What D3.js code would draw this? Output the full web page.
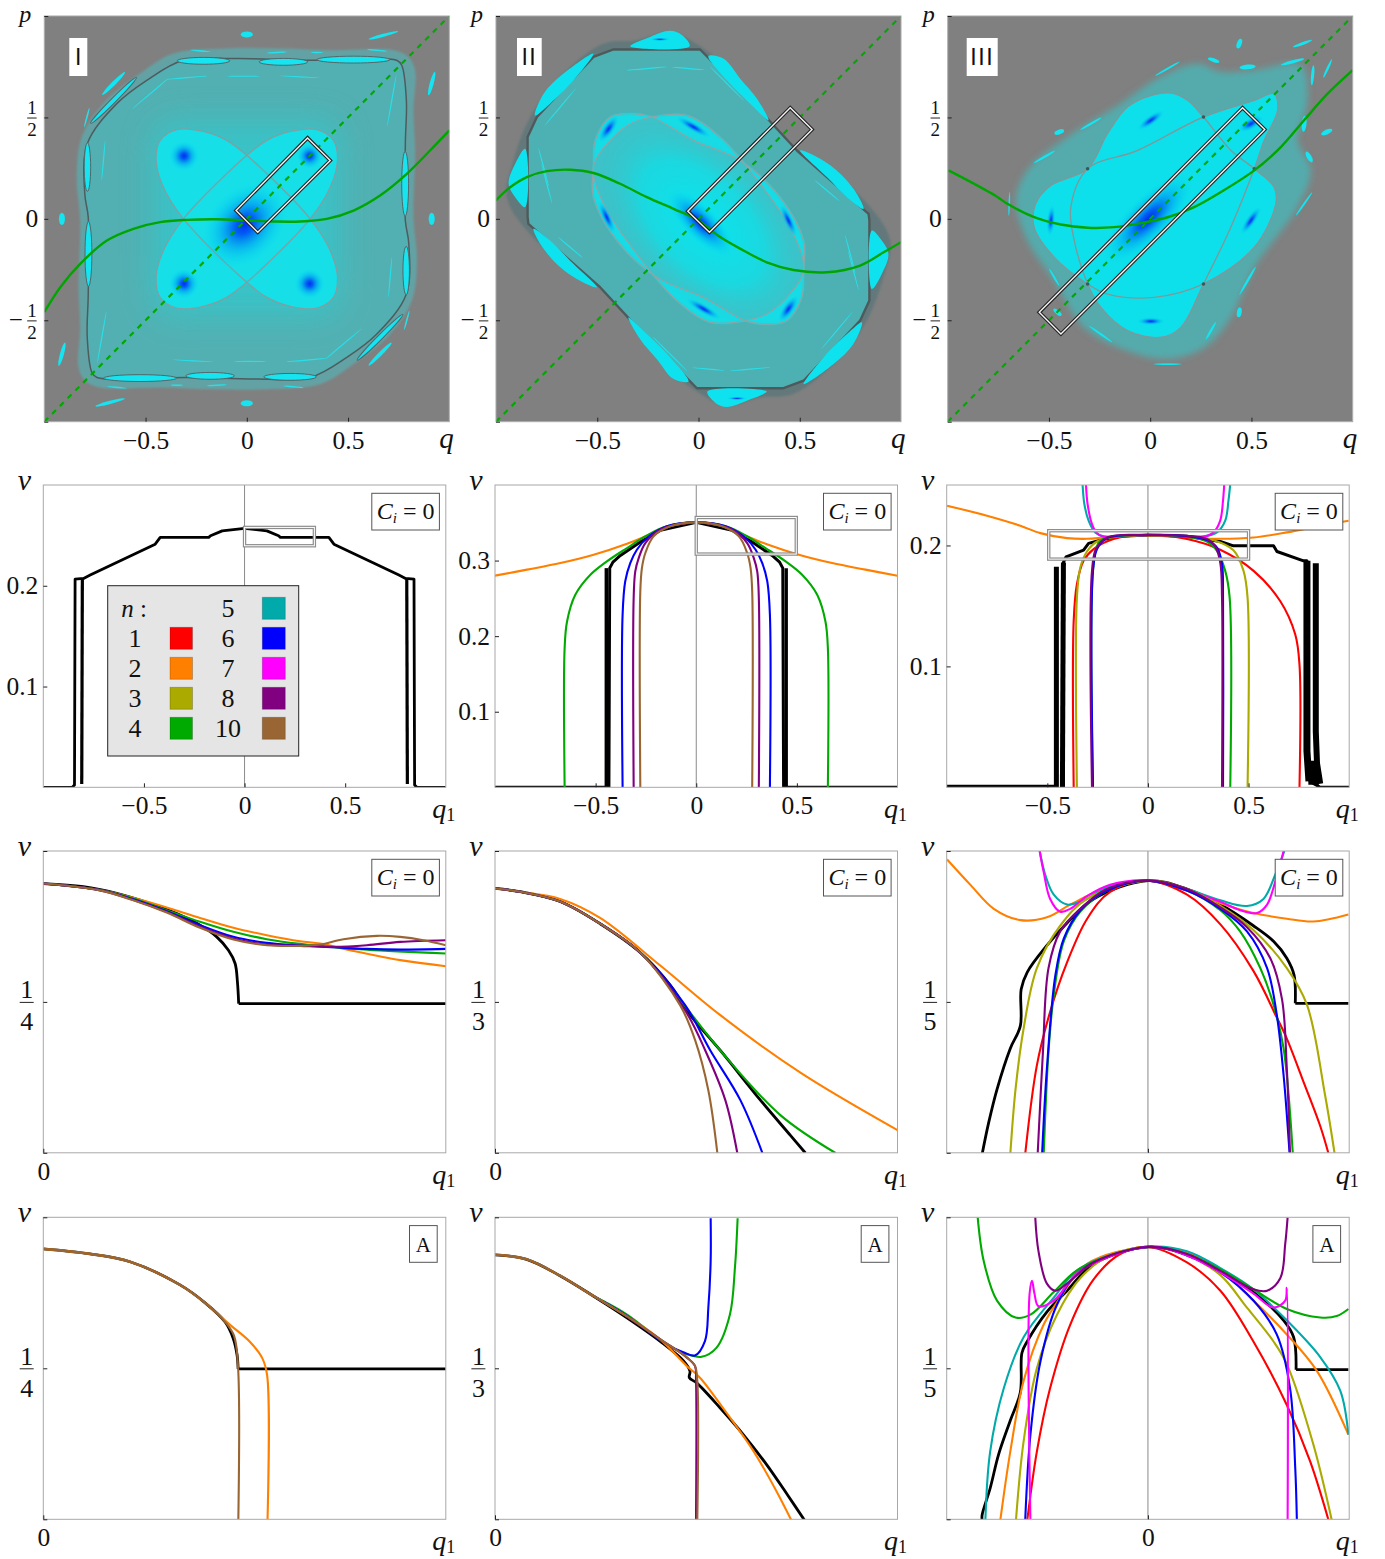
<!DOCTYPE html>
<html><head><meta charset="utf-8">
<script src="https://cdnjs.cloudflare.com/ajax/libs/d3/7.8.5/d3.min.js"></script>
<style>html,body{margin:0;padding:0;background:#fff}svg{display:block}text{font-family:"Liberation Serif",serif;fill:#111}</style>
</head><body><div id="c"></div>
<script>
// ---------- colours of the legend ----------
const legendCol1=[["1","#ff0000"],["2","#ff8000"],["3","#aaaa00"],["4","#00aa00"]];
const legendCol2=[["5","#00aaaa"],["6","#0000ff"],["7","#ff00ff"],["8","#800080"],["10","#996633"]];
const RED="#ff0000",ORG="#ff8000",OLV="#aaaa00",GRN="#00aa00",TEA="#00aaaa",BLU="#0000ff",MAG="#ff00ff",PUR="#800080",BRN="#996633",BLK="#000";

// ---------- phase-space maps: green curves (q,p) ----------
const greenI=[[-1,-.46],[-.921,-.337],[-.823,-.222],[-.691,-.107],[-.56,-.049],[-.428,-.016],[-.296,-.005],[-.148,-.002],[0,-.008],[.132,-.013],[.263,-.013],[.395,0],[.527,.041],[.658,.115],[.79,.222],[.905,.337],[1,.436]];
const greenII=[[-1,.091],[-.93,.156],[-.848,.206],[-.749,.235],[-.634,.242],[-.519,.226],[-.387,.173],[-.255,.107],[-.123,.049],[0,-.008],[.107,-.09],[.222,-.156],[.337,-.214],[.469,-.252],[.634,-.263],[.798,-.23],[.914,-.165],[1,-.115]];
const greenIII=[[-.996,.239],[-.885,.181],[-.753,.107],[-.705,.074],[-.573,.008],[-.441,-.028],[-.309,-.044],[-.178,-.041],[-.046,-.021],[.086,.008],[.217,.058],[.349,.132],[.514,.239],[.645,.354],[.76,.486],[.876,.617],[1,.733]];
const windowI=[[-.053,.041],[.3,.399],[.412,.288],[.054,-.066]];
const windowII=[[-.053,.038],[.453,.548],[.561,.44],[.054,-.066]];
const windowIII=[[-.548,-.461],[.456,.548],[.566,.44],[-.441,-.568]];

// region outlines (half outline; the other half by the map's point symmetry)
const outerI=[[.798,.798],[.831,.733],[.823,.535],[.831,.337],[.823,.008],[.84,-.206],[.815,-.403],[.708,-.568],[.527,-.716],[.362,-.815],[.099,-.84],[-.165,-.84],[-.428,-.831],[-.724,-.831]];
const chainI=[[.765,.757],[.788,.584],[.783,.372],[.783,-.008],[.8,-.123],[.788,-.37],[.642,-.568],[.494,-.683],[.313,-.782],[.049,-.79],[-.296,-.782],[-.74,-.782]];
const lobeI=[[0,.313],[.099,.387],[.214,.431],[.346,.44],[.428,.387],[.448,.288],[.412,.156],[.313,0]];
const outerII=[[-.14,.922],[-.025,.872],[.09,.79],[.222,.634],[.354,.469],[.486,.337],[.667,.222],[.848,.058],[.947,-.107],[.914,-.288],[.831,-.502],[.683,-.7],[.469,-.864],[.305,-.881]];
const chainII=[[-.42,.835],[.008,.835],[.272,.568],[.486,.337],[.84,.025],[.844,-.008],[.844,-.403],[.798,-.502],[.519,-.798]];
const ovalA_II=[[-.519,.255],[-.436,.387],[-.337,.469],[-.23,.502],[-.058,.51],[.107,.403],[.305,.173],[.469,-.074]];
const ovalB_II=[[-.23,.502],[-.321,.519],[-.436,.502],[-.51,.387],[-.519,.255],[-.519,.107],[-.403,-.107],[-.206,-.288],[.025,-.387]];
const islandsII=[
 [[-.337,.851],[-.239,.897],[-.14,.927],[-.082,.906],[-.044,.851]],
 [[.049,.802],[.123,.79],[.206,.691],[.288,.593],[.346,.486],[.255,.568],[.14,.683]],
 [[.502,.337],[.601,.296],[.7,.222],[.782,.123],[.815,.049],[.733,.107],[.634,.206]],
 [[.856,-.058],[.905,-.107],[.938,-.173],[.905,-.272],[.856,-.346]],
 [[.807,-.51],[.765,-.617],[.667,-.716],[.519,-.815],[.617,-.683],[.733,-.568]]];
const outerIII=[[.234,.765],[.349,.724],[.514,.733],[.744,.757],[.777,.584],[.728,.387],[.793,.239],[.728,.058],[.514,-.239],[.398,-.486],[.267,-.634],[.086,-.691],[-.112,-.65],[-.326,-.535],[-.474,-.305],[-.606,-.107],[-.663,.091],[-.606,.239],[-.408,.403],[-.145,.568],[.053,.7]];
const lobeA_III=[[-.309,.247],[-.211,.42],[-.112,.551],[.003,.608],[.102,.62],[.184,.585],[.263,.502],[.398,.338],[.514,.247],[.612,.156],[.62,.074],[.514,-.14],[.263,-.321],[.02,-.387],[-.211,-.371],[-.309,-.321],[-.474,-.189],[-.573,-.041],[-.566,.074],[-.491,.165]];
const lobeB_III=[[-.309,.247],[-.063,.337],[.263,.502],[.514,.584],[.612,.617],[.629,.535],[.563,.387],[.514,.247],[.398,-.041],[.263,-.321],[.151,-.535],[.053,-.584],[-.112,-.551],[-.244,-.436],[-.309,-.321],[-.375,-.107],[-.392,.058]];
const nodesIII=[[-.309,.247],[.263,.502],[.514,.247],[.263,-.321],[-.309,-.321]];
// ellipses: q,p, major, minor, angle
const specksI=[[0,.909,.03,.015,0],[-.913,0,.03,.015,90],[.675,.905,.075,.008,15],[.913,.667,.06,.01,75],[-.658,.667,.08,.01,45]];
const chainIslandsI=[[-.214,.779,.13,.017,0],[.181,.774,.12,.017,0],[.527,.785,.18,.017,0],[-.658,.584,.16,.012,45],[.782,.173,.16,.017,90],[.787,-.255,.12,.016,90]];
const streaksI=[[-.296,.696,.1,.003,5],[-.016,.703,.08,.003,0],[.263,.7,.1,.003,-3],[.716,.584,.13,.003,80],[-.708,.288,.1,.003,85],[-.477,.617,.12,.003,40],[-.23,.828,.05,.004,-5],[.148,.82,.05,.004,3],[.346,.82,.03,.004,0],[.642,.831,.05,.004,-5],[-.79,.5,.05,.004,75]];
const blueI=[[-.31,.31,.075,.075,0],[.31,.31,.065,.065,0],[-.31,-.32,.075,.075,0],[.31,-.32,.075,.075,0],[-.01,-.03,.24,.18,45]];
const streaksII=[[-.255,.741,.1,.003,5],[-.05,.741,.08,.003,-5],[-.683,.551,.12,.003,50],[.14,.667,.12,.003,-45],[.634,.14,.08,.003,-40],[.749,-.173,.1,.003,-75],[-.765,.255,.1,.003,-75]];
const blueII=[[.01,-.02,.22,.085,-45],[-.444,.444,.08,.03,55],[-.025,.453,.1,.024,-30],[.444,-.008,.09,.024,-65],[.025,-.444,.1,.024,-30],[.444,-.444,.08,.03,55],[-.453,.008,.09,.024,-65],[-.19,.885,.05,.009,0],[.19,-.885,.05,.009,0]];
const specksIII=[[-.449,.428,.025,.012,20],[.44,.864,.025,.012,70],[.313,.782,.03,.01,-20],[.481,.749,.04,.012,5],[.752,.864,.05,.007,20],[.703,.774,.06,.008,15],[.802,.708,.05,.008,85],[.876,.741,.05,.006,65],[.76,.469,.04,.012,85],[.872,.428,.03,.012,25],[.785,.305,.03,.012,-60],[.44,-.461,.025,.012,80],[.086,-.716,.07,.004,0],[-.458,-.461,.025,.01,-40],[-.523,.305,.06,.006,30],[-.293,.469,.06,.006,30],[.086,.741,.07,.005,30],[-.696,.074,.06,.004,88],[.481,-.305,.08,.006,60],[.3,-.551,.05,.006,60],[.76,.074,.07,.005,55],[-.474,-.288,.05,.005,-60],[-.244,-.568,.07,.005,-35]];
const blueIII=[[-.01,.0,.3,.11,45],[.003,.486,.08,.025,35],[.497,.469,.07,.03,30],[.497,-.008,.085,.025,55],[.003,-.505,.07,.02,0],[-.49,-.008,.08,.022,85]];

// ---------- nu(q1), overview row: right halves are mirrored where the curve is even ----------
const ovI_black=[[0,.2569],[.111,.2545],[.169,.2496],[.178,.248],[.419,.248],[.444,.2413],[.767,.2106],[.8,.2073],[.842,.2066],[.845,.0023],[.856,0],[1,0]];
const ovI_strand=[[.806,.2066],[.809,.0033]];
const ovII_orange=[[0,.3506],[.113,.3466],[.212,.3364],[.344,.3223],[.51,.3077],[.675,.2967],[.841,.288],[1,.28]];
const ovII_green=[[0,.3506],[.146,.3453],[.245,.3333],[.344,.3166],[.444,.2989],[.526,.2812],[.601,.2547],[.642,.2194],[.654,.1841],[.654,0]];
const ovII_black=[[0,.3506],[.179,.34],[.278,.3245],[.377,.3068],[.414,.298],[.43,.29],[.434,0],[.45,0],[1,0]];
const ovII_strand=[[.447,.29],[.447,0]];
const ovII_blue=[[0,.3506],[.146,.3453],[.245,.3298],[.295,.3143],[.328,.2967],[.353,.2724],[.366,.2283],[.366,0]];
const ovII_purple=[[0,.3506],[.179,.3408],[.253,.3232],[.286,.3033],[.303,.2857],[.311,.2503],[.311,0]];
const ovII_brown=[[0,.3506],[.129,.3453],[.212,.332],[.253,.31],[.27,.29],[.278,.2592],[.278,0]];
const ovIII_orange=[[-.998,.2329],[-.8,.2246],[-.634,.2163],[-.535,.2102],[-.402,.2061],[-.303,.2055],[-.204,.2066],[0,.2083],[.194,.2066],[.359,.2055],[.525,.2066],[.69,.2108],[.856,.2163],[.997,.2205]];
const ovIII_teal=[[-.325,.2509],[-.316,.2343],[-.295,.2205],[-.262,.2108],[-.22,.2075],[-.104,.2077],[0,.2086],[.161,.2077],[.276,.2075],[.343,.2108],[.384,.2205],[.4,.237],[.409,.2509]];
const ovIII_magenta=[[-.308,.2509],[-.3,.2343],[-.278,.2177],[-.253,.21],[-.22,.2072],[0,.2086],[.276,.2072],[.326,.2108],[.359,.2205],[.373,.237],[.379,.2509]];
const ovIII_red=[[-.369,0],[-.369,.1375],[-.353,.1679],[-.32,.1873],[-.27,.197],[-.171,.2053],[0,.2086],[.194,.2053],[.359,.1964],[.525,.179],[.657,.1541],[.732,.1264],[.753,.1015],[.753,0]];
const ovIII_olive=[[-.353,0],[-.353,.1568],[-.336,.1817],[-.303,.195],[-.253,.2033],[-.137,.2077],[0,.2086],[.194,.2077],[.326,.2044],[.425,.1961],[.475,.179],[.495,.1568],[.495,0]];
const ovIII_green=[[-.273,0],[-.27,.1845],[-.237,.2039],[-.137,.2077],[0,.2086],[.194,.2072],[.293,.2033],[.343,.1956],[.384,.179],[.406,.1568],[.409,0]];
const ovIII_blue=[[-.273,0],[-.273,.179],[-.253,.197],[-.204,.2061],[0,.2086],[.194,.2077],[.293,.2044],[.343,.1983],[.368,.1845],[.373,.1568],[.373,0]];
const ovIII_purple=[[-.278,0],[-.278,.179],[-.258,.197],[-.2,.2068],[0,.2086],[.194,.208],[.29,.2055],[.335,.199],[.36,.185],[.368,.1568],[.368,0]];
const ovIII_blackL=[[-1,0],[-.47,0],[-.455,0],[-.455,.1823]];
const ovIII_blackM=[[-.425,0],[-.42,.186]];
const ovIII_black=[[-.42,0],[-.42,.186],[-.407,.1906],[-.32,.1961],[-.295,.2017],[-.237,.2044],[-.137,.2077],[0,.2086],[.194,.2077],[.359,.2033],[.425,.1997],[.624,.1997],[.641,.195],[.773,.1873],[.79,.1873],[.79,.0324],[.806,.0047],[.856,0],[1,0]];
const ovIII_strandA=[[.79,.1873],[.79,.03],[.8,.005]];
const ovIII_strandB=[[.834,.1853],[.834,.0462],[.84,.02],[.856,.003]];
const ovIII_wedge=[[.797,.012],[.85,.012]];

// ---------- zoomed row, resonance 1/4 ----------
const z4_black=[[0,.25706],[.0348,.25687],[.0638,.25647],[.0928,.25587],[.116,.25527],[.1363,.25458],[.1508,.25388],[.161,.25308],[.1668,.25229],[.1688,.25119],[.1699,.2499],[.35,.2499]];
const z4_orange=[[0,.25706],[.0493,.25667],[.0783,.25621],[.1073,.25563],[.1363,.25501],[.1653,.25442],[.1943,.25398],[.2233,.25362],[.2407,.25348],[.2668,.25308],[.3103,.25249],[.35,.25213]];
const z4_green=[[0,.25706],[.0493,.25667],[.0783,.25617],[.1073,.25547],[.1363,.25478],[.1653,.25418],[.1943,.25374],[.2233,.25346],[.2407,.25334],[.2813,.25312],[.35,.25289]];
const z4_blue=[[0,.25706],[.0493,.25667],[.0783,.25612],[.1073,.25541],[.1363,.25458],[.1653,.25388],[.1943,.25352],[.2233,.25336],[.2523,.25326],[.2813,.25316],[.3103,.25312],[.35,.25316]];
const z4_purple=[[0,.25706],[.0493,.25665],[.0783,.25608],[.1073,.25537],[.1363,.25448],[.1653,.25378],[.1943,.25342],[.2233,.25334],[.2523,.25328],[.2813,.25338],[.3103,.25358],[.35,.25368]];
const z4_brown=[[0,.25706],[.0493,.25665],[.0783,.25606],[.1073,.25533],[.1363,.25442],[.1653,.25372],[.1943,.25338],[.2233,.25334],[.2407,.25342],[.261,.25374],[.29,.25394],[.3103,.25388],[.3306,.25368],[.35,.25338]];
// ---------- zoomed row, resonance 1/3 ----------
const z3_black=[[0,.3507],[.0311,.3502],[.0809,.3487],[.1306,.3453],[.1804,.3409],[.2177,.3359],[.2301,.3336],[.2426,.3313],[.2799,.3259],[.3297,.3183],[.367,.3129],[.3856,.3102]];
const z3_orange=[[0,.3507],[.0311,.3502],[.0809,.3491],[.1306,.3462],[.2053,.3389],[.2799,.3313],[.3794,.3225],[.5,.3137]];
const z3_green=[[0,.3507],[.0311,.3502],[.0809,.3487],[.1306,.3453],[.1804,.3409],[.2301,.3336],[.2799,.3259],[.3545,.316],[.423,.3102]];
const z3_blue=[[0,.3507],[.0311,.3502],[.0809,.3487],[.1306,.3453],[.1804,.3409],[.2364,.3328],[.2675,.3259],[.3048,.3183],[.3322,.3102]];
const z3_purple=[[0,.3507],[.0311,.3502],[.0809,.3487],[.1306,.3453],[.1804,.3409],[.2364,.332],[.2612,.3259],[.2861,.3183],[.301,.3102]];
const z3_brown=[[0,.3507],[.0311,.3502],[.0809,.3487],[.1306,.3453],[.1804,.3409],[.2301,.3328],[.2488,.3274],[.265,.3198],[.2762,.3102]];
// ---------- zoomed row, resonance 1/5 ----------
const z5_orange=[[-.499,.2101],[-.441,.2083],[-.383,.2066],[-.317,.2058],[-.251,.206],[-.193,.2069],[-.11,.208],[0,.2086],[.097,.2079],[.18,.207],[.262,.2063],[.345,.2059],[.411,.2057],[.498,.2062]];
const z5_teal=[[-.269,.2107],[-.255,.209],[-.234,.2076],[-.201,.2069],[-.16,.2072],[-.094,.2082],[0,.2086],[.097,.208],[.18,.2072],[.246,.2068],[.287,.2073],[.316,.209],[.339,.2107]];
const z5_magenta=[[-.269,.2107],[-.259,.2092],[-.243,.2073],[-.218,.2064],[-.193,.2066],[-.151,.2075],[-.094,.2083],[0,.2086],[.097,.2079],[.18,.2071],[.229,.2065],[.271,.2063],[.296,.2069],[.316,.2085],[.337,.2107]];
const z5_red=[[-.305,.1892],[-.276,.1955],[-.243,.1993],[-.201,.2028],[-.151,.2059],[-.094,.2078],[0,.2086],[.097,.2076],[.18,.2055],[.262,.2022],[.32,.1989],[.345,.1974],[.387,.1943],[.428,.1912],[.449,.1892]];
const z5_olive=[[-.342,.1892],[-.329,.1938],[-.309,.1981],[-.276,.2024],[-.218,.2054],[-.151,.2073],[0,.2086],[.097,.208],[.18,.2068],[.262,.2051],[.345,.2024],[.395,.1998],[.44,.1934],[.464,.1892]];
const z5_green=[[-.259,.1892],[-.247,.1965],[-.234,.2005],[-.209,.2043],[-.168,.2064],[-.102,.2079],[0,.2086],[.097,.2079],[.18,.2065],[.229,.205],[.279,.2024],[.312,.1998],[.337,.1967],[.36,.1892]];
const z5_blue=[[-.263,.1892],[-.251,.1953],[-.23,.2019],[-.209,.2045],[-.168,.2065],[-.102,.2079],[0,.2086],[.097,.2079],[.18,.2066],[.246,.205],[.296,.2024],[.32,.1991],[.337,.1948],[.352,.1892]];
const z5_purple=[[-.274,.1892],[-.261,.1964],[-.247,.2024],[-.218,.205],[-.168,.2066],[-.102,.208],[0,.2086],[.097,.208],[.18,.2067],[.246,.2053],[.304,.2031],[.333,.2002],[.345,.1953],[.353,.1892]];
const z5_black=[[-.412,.1892],[-.396,.1914],[-.375,.1938],[-.342,.1967],[-.317,.1983],[-.315,.2009],[-.3,.2021],[-.251,.204],[-.201,.2056],[-.135,.2073],[0,.2086],[.097,.208],[.18,.2069],[.262,.2054],[.312,.2043],[.345,.2031],[.363,.2019],[.366,.1999],[.498,.1999]];
// ---------- approximation row A ----------
const a4_black=[[0,.25712],[.0406,.25682],[.0754,.25635],[.1189,.25497],[.1407,.2539],[.1581,.25276],[.165,.25181],[.1685,.25079],[.1694,.24996],[.35,.24996]];
const a4_orange=[[0,.25712],[.0406,.25682],[.0754,.25635],[.1189,.25497],[.1407,.2539],[.1624,.25259],[.1798,.25157],[.1903,.25062],[.1946,.2496],[.195,.241]];
const a4_brown=[[0,.25712],[.0406,.25682],[.0754,.25635],[.1189,.25497],[.1407,.2539],[.1581,.25276],[.1659,.25193],[.1694,.25],[.1696,.241]];
const a3_black=[[0,.3507],[.0393,.35],[.0807,.3475],[.1221,.3444],[.1635,.3411],[.2049,.3375],[.2339,.3345],[.2422,.3329],[.2414,.3319],[.2505,.3311],[.2795,.3273],[.3084,.3232],[.3374,.3186],[.3643,.3138],[.385,.31]];
const a3_orange=[[0,.3507],[.0393,.35],[.0807,.3475],[.1221,.3444],[.1635,.3413],[.2049,.3378],[.2381,.3337],[.2546,.3319],[.2877,.3265],[.3209,.3207],[.3498,.3145],[.3685,.31]];
const a3_green=[[.1221,.3444],[.1635,.3416],[.2132,.337],[.2381,.3355],[.2567,.3351],[.2753,.3365],[.2919,.3416],[.2981,.3488],[.3014,.3563]];
const a3_blue=[[.1221,.3444],[.1635,.3414],[.2132,.337],[.2339,.3358],[.2484,.3353],[.2608,.3375],[.265,.3426],[.2679,.3498],[.2679,.3563]];
const a3_purple=[[.1635,.3413],[.2049,.3378],[.2381,.335],[.2484,.3337],[.2497,.3314],[.2497,.31]];
const a3_brown=[[0,.3507],[.0393,.35],[.0807,.3475],[.1221,.3444],[.1635,.3413],[.2049,.3378],[.2381,.335],[.2484,.3337],[.2513,.3314],[.2513,.31]];
const a5_red=[[-.3,.1892],[-.276,.1941],[-.243,.1986],[-.193,.2031],[-.135,.2063],[-.069,.2081],[0,.2086],[.097,.2075],[.18,.2055],[.262,.2019],[.345,.1974],[.403,.1934],[.449,.1892]];
const a5_orange=[[-.367,.1892],[-.342,.1941],[-.309,.1991],[-.259,.2031],[-.218,.205],[-.151,.2074],[0,.2086],[.097,.2082],[.18,.2069],[.262,.2048],[.345,.2024],[.42,.1998],[.498,.1953]];
const a5_olive=[[-.328,.1892],[-.309,.1948],[-.276,.2],[-.226,.2038],[-.168,.2064],[-.094,.208],[0,.2086],[.097,.208],[.18,.2066],[.246,.2043],[.312,.2019],[.345,.2003],[.411,.1946],[.457,.1892]];
const a5_teal=[[-.404,.1892],[-.392,.1941],[-.358,.1986],[-.309,.2022],[-.234,.205],[-.168,.2071],[0,.2086],[.097,.2083],[.18,.2071],[.262,.2056],[.345,.2034],[.428,.2008],[.478,.1984],[.498,.1953]];
const a5_black=[[-.412,.1892],[-.412,.1896],[-.392,.1915],[-.371,.1939],[-.342,.1963],[-.317,.1983],[-.313,.2011],[-.3,.2019],[-.251,.204],[-.201,.2055],[-.135,.2074],[0,.2086],[.097,.2081],[.18,.2069],[.262,.2054],[.337,.2034],[.362,.2022],[.368,.1999],[.498,.1999]];
const a5_green=[[-.423,.2107],[-.408,.2076],[-.375,.2048],[-.329,.2036],[-.292,.2038],[-.234,.2054],[-.168,.2071],[0,.2086],[.097,.2081],[.18,.207],[.262,.2056],[.345,.2042],[.428,.2036],[.469,.2037],[.498,.2042]];
const a5_blue=[[-.305,.1892],[-.292,.1953],[-.267,.2005],[-.226,.2045],[-.168,.2069],[0,.2086],[.097,.208],[.18,.2068],[.262,.2048],[.32,.2024],[.353,.1986],[.366,.1929],[.37,.1892]];
const a5_magenta=[[-.292,.1892],[-.294,.2053],[-.288,.2062],[-.282,.2053],[-.272,.2044],[-.234,.2048],[-.168,.2069],[0,.2086],[.097,.208],[.18,.2068],[.262,.2053],[.312,.2043],[.341,.2048],[.345,.2057],[.347,.1892]];
const a5_purple=[[-.28,.2107],[-.272,.2083],[-.251,.206],[-.23,.2055],[-.201,.206],[-.135,.2075],[0,.2086],[.097,.2081],[.18,.2069],[.262,.2056],[.296,.2055],[.329,.2064],[.341,.2088],[.347,.2107]];
// zoom windows drawn in the overview row: q0,q1,nu0,nu1
const insetI=[0,.347,.2397,.2579],insetII=[0,.497,.3086,.357],insetIII=[-.493,.5,.1887,.2122];

// ---------- helpers ----------
const mirror=a=>[...a.slice().reverse().map(d=>[-d[0],d[1]]),...a.filter(d=>d[0]>0)];
const mirrorAll=a=>a.map(d=>[-d[0],d[1]]);
const both=a=>[...a,...a.map(d=>[-d[0],-d[1]])];
const bothE=a=>[...a,...a.map(d=>[-d[0],-d[1],d[2],d[3],d[4]])];
const svg=d3.select("#c").append("svg").attr("width",1385).attr("height",1559);
const defs=svg.append("defs");
[["b06",.6],["b1",1.2],["b3",3],["b12",16]].forEach(([id,s])=>defs.append("filter").attr("id",id).attr("x","-40%").attr("y","-40%").attr("width","180%").attr("height","180%").append("feGaussianBlur").attr("stdDeviation",s));
const rg=defs.append("radialGradient").attr("id","spot");
[[0,"#0030f0",1],[.22,"#0058f4",.95],[.55,"#00a0f2",.6],[1,"#00e0f0",0]].forEach(([o,c,a])=>rg.append("stop").attr("offset",o).attr("stop-color",c).attr("stop-opacity",a));
const cg=defs.append("radialGradient").attr("id","glow");
[[0,"#06e6f0",1],[.6,"#18dae2",.9],[1,"#34c6cc",0]].forEach(([o,c,a])=>cg.append("stop").attr("offset",o).attr("stop-color",c).attr("stop-opacity",a));

function tx(g,x,y,s,o={}){const t=g.append("text").attr("x",x).attr("y",y).attr("font-size",o.size||25).text(s);
 if(o.anchor)t.attr("text-anchor",o.anchor);if(o.italic)t.attr("font-style","italic");if(o.family)t.style("font-family",o.family);return t;}
function fraction(g,xc,yBar,num,den,size,bar,dn,dd,neg){
 tx(g,xc,yBar-dn,num,{size,anchor:"middle"});tx(g,xc,yBar+dd,den,{size,anchor:"middle"});
 g.append("line").attr("x1",xc-bar/2).attr("x2",xc+bar/2).attr("y1",yBar).attr("y2",yBar).attr("stroke","#222").attr("stroke-width",1);
 if(neg)tx(g,xc-9,yBar+7,"−",{size:25,anchor:"end"});}
function axes(g,x,y,W,H,xt,yt,xf,yf,pad){
 const ax=d3.axisBottom(x).tickValues(xt).tickSizeInner(-4).tickSizeOuter(0).tickPadding(pad).tickFormat(xf);
 const ay=d3.axisLeft(y).tickValues(yt).tickSizeInner(-4).tickSizeOuter(0).tickPadding(5).tickFormat(yf);
 const a=g.append("g").attr("transform",`translate(0,${H})`).call(ax);
 const b=g.append("g").call(ay);
 [a,b].forEach(s=>{s.attr("font-family",null);s.select(".domain").remove();s.selectAll("line").attr("stroke","#222");s.selectAll("text").attr("font-size",25.5).style("fill","#111");});
}
const numFmt=d=>d<0?"−"+Math.abs(d):String(d);
function frame(g,W,H){g.append("rect").attr("width",W).attr("height",H).attr("fill","none").attr("stroke","#a8a8a8").attr("stroke-width",1);}

// ---------- top row ----------
function mapPanel(left,name,boxW,paint,green,win){
 const W=405,H=405.7,g=svg.append("g").attr("transform",`translate(${left},16)`);
 const x=d3.scaleLinear().domain([-1,1]).range([0,W]),y=d3.scaleLinear().domain([-1,1]).range([H,0]);
 const cid="mc"+name;defs.append("clipPath").attr("id",cid).append("rect").attr("width",W).attr("height",H);
 const body=g.append("g").attr("clip-path",`url(#${cid})`);
 body.append("rect").attr("width",W).attr("height",H).attr("fill","#808080");
 const closed=d3.line().x(d=>x(d[0])).y(d=>y(d[1])).curve(d3.curveCatmullRomClosed.alpha(.5));
 const sharp=d3.line().x(d=>x(d[0])).y(d=>y(d[1])).curve(d3.curveLinearClosed);
 const open=d3.line().x(d=>x(d[0])).y(d=>y(d[1])).curve(d3.curveCatmullRom.alpha(.5));
 const ell=(gg,list,fill)=>{const s=gg.append("g");s.selectAll("ellipse").data(list).join("ellipse")
   .attr("transform",d=>`translate(${x(d[0])},${y(d[1])}) rotate(${-d[4]})`)
   .attr("rx",d=>x(d[2])-x(0)).attr("ry",d=>x(d[3])-x(0)).attr("fill",fill);return s;};
 paint({body,x,y,closed,sharp,ell});
 body.append("path").attr("d",open([[-1,-1],[1,1]])).attr("stroke","#00a800").attr("stroke-width",2.2).attr("stroke-dasharray","5.5 5.5").attr("fill","none");
 body.append("path").attr("d",open(green)).attr("stroke","#00a600").attr("stroke-width",2.4).attr("fill","none");
 body.append("path").attr("d",sharp(win)).attr("fill","none").attr("stroke","#222").attr("stroke-width",3.6).attr("stroke-linejoin","miter");
 body.append("path").attr("d",sharp(win)).attr("fill","none").attr("stroke","#f4f4f4").attr("stroke-width",1.4).attr("stroke-linejoin","miter");
 frame(g,W,H);
 axes(g,x,y,W,H,[-.5,0,.5],[1,.5,0,-.5,-1],numFmt,()=>"",9);
 tx(g,-6,y(0)+8.5,"0",{size:25.5,anchor:"end"});
 fraction(g,-12.4,y(.5)+.6,"1","2",19,9.5,4,18,false);
 fraction(g,-12.4,y(-.5)+.6,"1","2",19,9.5,4,18,true);
 tx(g,-19,5.6,"p",{size:24,italic:true,anchor:"middle"});
 tx(g,W-10,432,"q",{size:29,italic:true});
 const lx=left<100?25:(left<600?21:19);
 g.append("rect").attr("x",lx).attr("y",22).attr("width",boxW).attr("height",38).attr("fill","#fff");
 tx(g,lx+boxW/2,49,name,{size:23,anchor:"middle",family:"Liberation Sans"}).attr("letter-spacing",name.length>1?"1.5":"0");
}

mapPanel(44.3,"I",18,({body,x,y,closed,ell})=>{
 const fx=body.append("g").attr("filter","url(#b06)");
 fx.append("path").attr("d",closed(both(outerI))).attr("fill","#64a2a4").attr("filter","url(#b1)");
 fx.append("path").attr("d",closed(both(chainI))).attr("fill","#52b0b2").attr("stroke","#4e5c5e").attr("stroke-width",1.5);
 ell(fx,bothE(specksI),"#12e4f0");
 ell(fx,bothE(chainIslandsI),"#12e4f0").selectAll("ellipse").attr("stroke","#52686a").attr("stroke-width",1);
 ell(fx,bothE(streaksI),"#28dfe8");
 body.append("rect").attr("x",x(-.46)).attr("y",y(.48)).attr("width",x(.46)-x(-.46)).attr("height",y(-.48)-y(.48)).attr("rx",20).attr("fill","#30c8cc").attr("opacity",.8).attr("filter","url(#b12)");
 const lobeA=both(lobeI),lobeB=lobeA.map(d=>[-d[0],d[1]]);
 const l=body.append("g").attr("filter","url(#b06)");
 [lobeA,lobeB].forEach(a=>l.append("path").attr("d",closed(a)).attr("fill","#12dfe8"));
 [lobeA,lobeB].forEach(a=>l.append("path").attr("d",closed(a)).attr("fill","none").attr("stroke","#7fa0a2").attr("stroke-width",1.3));
 ell(body,blueI,"url(#spot)");
},greenI,windowI);

mapPanel(496,"II",24.7,({body,x,y,closed,sharp,ell})=>{
 const fx=body.append("g").attr("filter","url(#b06)");
 fx.append("path").attr("d",closed(both(outerII))).attr("fill","#64787a").attr("filter","url(#b1)");
 fx.append("path").attr("d",sharp(both(chainII))).attr("fill","#4eb0b2").attr("stroke","#4e5a5c").attr("stroke-width",2.4).attr("stroke-linejoin","round");
 islandsII.forEach(a=>{fx.append("path").attr("d",closed(a)).attr("fill","#10e2ee");
  fx.append("path").attr("d",closed(a.map(d=>[-d[0],-d[1]]))).attr("fill","#10e2ee");});
 ell(fx,bothE(streaksII),"#28dfe8");
 const A=both(ovalA_II),B=both(ovalB_II);
 defs.append("clipPath").attr("id","ovalclip").append("path").attr("d",closed(A));
 body.append("path").attr("d",closed(A)).attr("fill","#14dce6").attr("filter","url(#b1)");
 body.append("path").attr("d",closed(B)).attr("fill","#14dce6").attr("filter","url(#b1)");
 const cen=body.append("g").attr("clip-path","url(#ovalclip)");
 cen.append("path").attr("d",closed(B)).attr("fill","#3cc2c8");
 cen.append("ellipse").attr("transform",`translate(${x(.02)},${y(-.02)}) rotate(45)`).attr("rx",x(.62)-x(0)).attr("ry",x(.36)-x(0)).attr("fill","url(#glow)");
 [A,B].forEach(a=>body.append("path").attr("d",closed(a)).attr("fill","none").attr("stroke","#8ca6a8").attr("stroke-width",1.2).attr("filter","url(#b06)"));
 ell(body,blueII,"url(#spot)");
},greenII,windowII);

mapPanel(947.7,"III",31,({body,x,y,closed,ell})=>{
 const fx=body.append("g").attr("filter","url(#b06)");
 fx.append("path").attr("d",closed(outerIII)).attr("fill","#54aaac").attr("filter","url(#b3)");
 ell(fx,specksIII,"#12e4f0");
 const l=body.append("g").attr("filter","url(#b06)");
 [lobeA_III,lobeB_III].forEach(a=>l.append("path").attr("d",closed(a)).attr("fill","#10e0ea"));
 [lobeA_III,lobeB_III].forEach(a=>l.append("path").attr("d",closed(a)).attr("fill","none").attr("stroke","#7a9a9c").attr("stroke-width",1.4));
 l.append("g").selectAll("circle").data(nodesIII).join("circle").attr("cx",d=>x(d[0])).attr("cy",d=>y(d[1])).attr("r",1.8).attr("fill","#3e5658");
 ell(body,blueIII,"url(#spot)");
},greenIII,windowIII);

// ---------- nu(q1) panels ----------
const LEFTS=[43.3,495,946.7],PW=402.5;
function nuPanel(col,top,H,xdom,ydom,opts){
 const left=LEFTS[col],g=svg.append("g").attr("transform",`translate(${left},${top})`);
 const x=d3.scaleLinear().domain(xdom).range([0,PW]),y=d3.scaleLinear().domain(ydom).range([H,0]);
 const cid="c"+col+"_"+Math.round(top);defs.append("clipPath").attr("id",cid).append("rect").attr("width",PW).attr("height",H);
 g.append("rect").attr("width",PW).attr("height",H).attr("fill","#fff");
 if(xdom[0]<0)g.append("line").attr("x1",x(0)).attr("x2",x(0)).attr("y2",H).attr("stroke","#8a8a8a").attr("stroke-width",1);
 const body=g.append("g").attr("clip-path",`url(#${cid})`);
 const smooth=d3.line().x(d=>x(d[0])).y(d=>y(d[1])).curve(d3.curveCatmullRom.alpha(.5));
 const straight=d3.line().x(d=>x(d[0])).y(d=>y(d[1]));
 const stroke=(d,c,w)=>body.append("path").attr("d",d).attr("fill","none").attr("stroke",c).attr("stroke-width",w||2.1).attr("stroke-linejoin","round");
 opts.series.forEach(([a,c,w])=>{
  if(c===BLK&&opts.smoothBlack){
   const n=a.length;
   if(a[n-1][1]===a[n-2][1]){stroke(smooth(a.slice(0,n-1)),c,w);stroke(straight(a.slice(n-2)),c,w);}
   else stroke(smooth(a),c,w);
  } else stroke((c===BLK?straight:smooth)(a),c,w);
 });
 if(opts.inset){const [a,b,c,d]=opts.inset;
  [["#8e8e8e",3.4],["#fff",1]].forEach(([s,w])=>g.append("rect").attr("x",x(a)).attr("y",y(d)).attr("width",x(b)-x(a)).attr("height",y(c)-y(d)).attr("fill","none").attr("stroke",s).attr("stroke-width",w));}
 frame(g,PW,H);
 axes(g,x,y,PW,H,opts.xt,opts.yt,numFmt,opts.yf||(d=>d),opts.pad);
 if(opts.frac)fraction(g,-16.6,y(opts.frac[2])+.5,opts.frac[0],opts.frac[1],26,14,4,28,false);
 tx(g,-19,5,"ν",{size:30,italic:true,anchor:"middle"});
 const q=tx(g,PW-13.5,H+31,"q",{size:28,italic:true});
 q.append("tspan").attr("font-size",18).attr("dy",3).style("font-style","normal").text("1");
 const bw=opts.tag==="A"?27.7:67.6,bh=36.7,bx=PW-(opts.tag==="A"?8.6:6.4)-bw,by=8.3;
 g.append("rect").attr("x",bx).attr("y",by).attr("width",bw).attr("height",bh).attr("fill","#fff").attr("stroke","#555").attr("stroke-width",1);
 if(opts.tag==="A")tx(g,bx+bw/2,by+26,"A",{size:21,anchor:"middle"});
 else{const t=tx(g,bx+bw/2,by+26,"",{size:24,anchor:"middle"});
  t.append("tspan").style("font-style","italic").text("C");
  t.append("tspan").attr("font-size",15).attr("dy",4).style("font-style","italic").text("i");
  t.append("tspan").attr("dy",-4).text(" = 0");}
 return g;
}
const R2=485,R2H=302.3,R3=851,R3H=301.8,R4=1217.3,R4H=302;
const ovTicks=[-.5,0,.5],fmt1=d=>d.toFixed(1);
nuPanel(0,R2,R2H,[-1,1],[0,.3],{xt:ovTicks,yt:[.2,.1],yf:fmt1,pad:9,inset:insetI,series:[
 [mirror(ovI_black),BLK,2.8],[ovI_strand,BLK,3.2],[mirrorAll(ovI_strand),BLK,3.2]]});
nuPanel(1,R2,R2H,[-1,1],[0,.4],{xt:ovTicks,yt:[.3,.2,.1],yf:fmt1,pad:9,inset:insetII,series:[
 [mirror(ovII_black),BLK,3],[ovII_strand,BLK,3.4],[mirrorAll(ovII_strand),BLK,3.4],
 [mirror(ovII_orange),ORG],[mirror(ovII_green),GRN],[mirror(ovII_blue),BLU],[mirror(ovII_purple),PUR],[mirror(ovII_brown),BRN]]});
nuPanel(2,R2,R2H,[-1,1],[0,.25],{xt:ovTicks,yt:[.2,.1],yf:fmt1,pad:9,inset:insetIII,series:[
 [ovIII_blackL,BLK,5],[ovIII_black,BLK,3],[ovIII_strandA,BLK,7],[ovIII_strandB,BLK,6],[ovIII_wedge,BLK,24],[ovIII_blackM,BLK,5],
 [ovIII_orange,ORG],[ovIII_teal,TEA],[ovIII_magenta,MAG],[ovIII_red,RED],[ovIII_olive,OLV],[ovIII_green,GRN],[ovIII_blue,BLU],[ovIII_purple,PUR]]});

// legend, over the first overview panel
const lg=svg.append("g");
lg.append("rect").attr("x",107.7).attr("y",585.7).attr("width",191).attr("height",170.3).attr("fill","#e5e5e5").attr("stroke","#222").attr("stroke-width",1);
const rowY=d3.scalePoint().domain(d3.range(5)).range([608.3,728.3]);
tx(lg,134,616.5,"n",{size:25,italic:true,anchor:"middle"}).append("tspan").style("font-style","normal").text(" :");
legendCol1.forEach(([n,c],i)=>{tx(lg,135,rowY(i+1)+8.5,n,{size:26,anchor:"middle"});
 lg.append("rect").attr("x",170).attr("y",rowY(i+1)-11).attr("width",22.5).attr("height",22).attr("fill",c).attr("stroke","#0003");});
legendCol2.forEach(([n,c],i)=>{tx(lg,228,rowY(i)+8.5,n,{size:26,anchor:"middle"});
 lg.append("rect").attr("x",262.3).attr("y",rowY(i)-11).attr("width",23).attr("height",22).attr("fill",c).attr("stroke","#0003");});

const d4=[.241,.259],d3r=[1/3-.0231,1/3+.0231],d5=[.1893,.2107];
nuPanel(0,R3,R3H,[0,.35],d4,{smoothBlack:true,xt:[0],yt:[d4[1],.25,d4[0]],yf:()=>"",pad:9,frac:["1","4",.25],series:[
 [z4_black,BLK,2.8],[z4_orange,ORG],[z4_green,GRN],[z4_blue,BLU],[z4_purple,PUR],[z4_brown,BRN]]});
nuPanel(1,R3,R3H,[0,.5],d3r,{smoothBlack:true,xt:[0],yt:[d3r[1],1/3,d3r[0]],yf:()=>"",pad:9,frac:["1","3",1/3],series:[
 [z3_black,BLK,2.8],[z3_orange,ORG],[z3_green,GRN],[z3_blue,BLU],[z3_purple,PUR],[z3_brown,BRN]]});
nuPanel(2,R3,R3H,[-.5,.5],d5,{smoothBlack:true,xt:[0],yt:[d5[1],.2,d5[0]],yf:()=>"",pad:9,frac:["1","5",.2],series:[
 [z5_black,BLK,2.8],[z5_orange,ORG],[z5_teal,TEA],[z5_magenta,MAG],[z5_red,RED],[z5_olive,OLV],[z5_green,GRN],[z5_blue,BLU],[z5_purple,PUR]]});
nuPanel(0,R4,R4H,[0,.35],d4,{smoothBlack:true,tag:"A",xt:[0],yt:[d4[1],.25,d4[0]],yf:()=>"",pad:9,frac:["1","4",.25],series:[
 [a4_black,BLK,2.8],[a4_orange,ORG],[a4_brown,BRN]]});
nuPanel(1,R4,R4H,[0,.5],d3r,{smoothBlack:true,tag:"A",xt:[0],yt:[d3r[1],1/3,d3r[0]],yf:()=>"",pad:9,frac:["1","3",1/3],series:[
 [a3_black,BLK,2.8],[a3_green,GRN],[a3_blue,BLU],[a3_orange,ORG],[a3_purple,PUR],[a3_brown,BRN]]});
nuPanel(2,R4,R4H,[-.5,.5],d5,{smoothBlack:true,tag:"A",xt:[0],yt:[d5[1],.2,d5[0]],yf:()=>"",pad:9,frac:["1","5",.2],series:[
 [a5_black,BLK,2.8],[a5_red,RED],[a5_orange,ORG],[a5_olive,OLV],[a5_teal,TEA],[a5_green,GRN],[a5_blue,BLU],[a5_magenta,MAG],[a5_purple,PUR]]});
</script></body></html>
